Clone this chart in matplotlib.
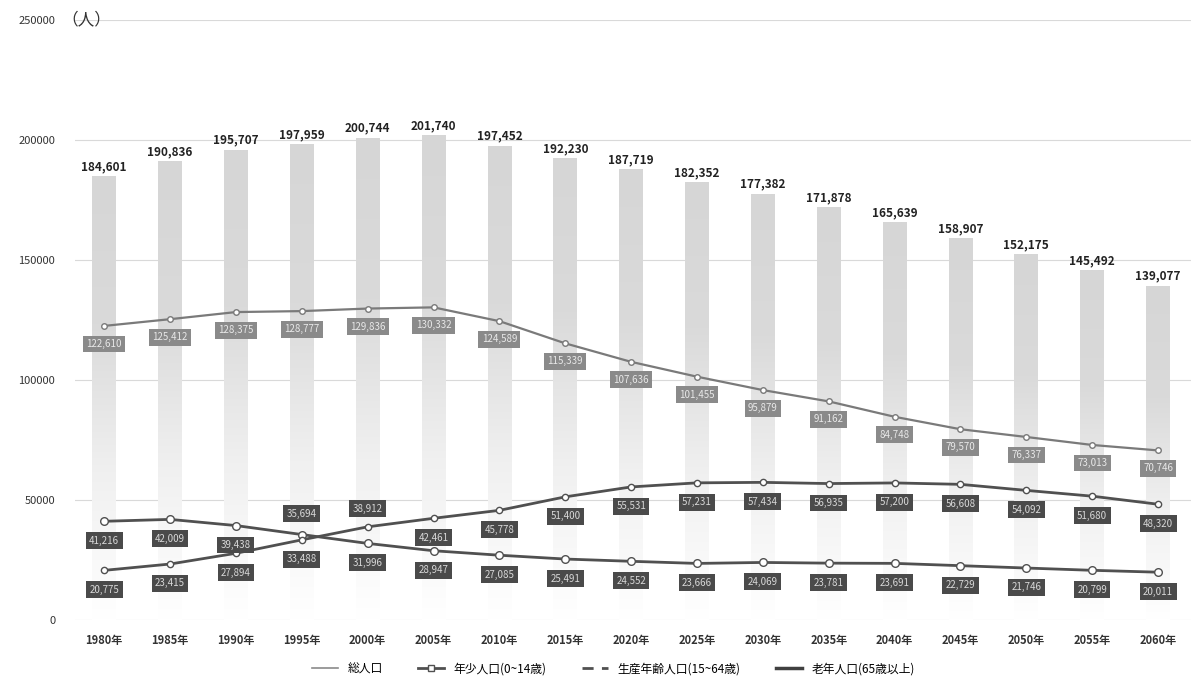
import numpy as np
import matplotlib
matplotlib.use("Agg")
import matplotlib.pyplot as plt
from matplotlib.lines import Line2D

plt.rcParams['font.family'] = ['Noto Sans CJK JP', 'DejaVu Sans']

years = ['1980年', '1985年', '1990年', '1995年', '2000年', '2005年', '2010年', '2015年',
         '2020年', '2025年', '2030年', '2035年', '2040年', '2045年', '2050年', '2055年', '2060年']
total = [184601, 190836, 195707, 197959, 200744, 201740, 197452, 192230, 187719,
         182352, 177382, 171878, 165639, 158907, 152175, 145492, 139077]
young = [41216, 42009, 39438, 35694, 31996, 28947, 27085, 25491, 24552,
         23666, 24069, 23781, 23691, 22729, 21746, 20799, 20011]
working = [122610, 125412, 128375, 128777, 129836, 130332, 124589, 115339, 107636,
           101455, 95879, 91162, 84748, 79570, 76337, 73013, 70746]
elderly = [20775, 23415, 27894, 33488, 38912, 42461, 45778, 51400, 55531,
           57231, 57434, 56935, 57200, 56608, 54092, 51680, 48320]
yticks = [0, 50000, 100000, 150000, 200000, 250000]
legend_labels = ['総人口', '年少人口(0~14歳)', '生産年齢人口(15~64歳)', '老年人口(65歳以上)']

fig = plt.figure(figsize=(12.03, 6.93), dpi=100)
ax = fig.add_axes([0.062, 0.105, 0.928, 0.866])
x = np.arange(len(years))

# gradient bars
bw = 0.36
grad = np.linspace(0, 1, 256).reshape(-1, 1)
cmap = matplotlib.colors.LinearSegmentedColormap.from_list('g', ['#ffffff', '#f0f0f0', '#dadada', '#d6d6d6'])
for xi, t in zip(x, total):
    ax.imshow(grad, extent=[xi - bw / 2, xi + bw / 2, 0, t], origin='lower', aspect='auto',
              cmap=cmap, zorder=1, interpolation='bilinear')
    ax.text(xi, t + 1500, f'{t:,}', ha='center', va='bottom', fontsize=8.5,
            fontweight='bold', color='#222222', zorder=6)

ax.plot(x, working, color='#7a7a7a', lw=1.6, marker='o', ms=4, mfc='white', mec='#7a7a7a', zorder=4)
ax.plot(x, young, color='#505050', lw=2.0, marker='o', ms=5.5, mfc='white', mec='#505050', zorder=4)
ax.plot(x, elderly, color='#505050', lw=2.0, marker='o', ms=4.5, mfc='white', mec='#505050', zorder=4)

def lab(xi, v, dy, fc, tc):
    ax.annotate(f'{v:,}', (xi, v), xytext=(0, dy), textcoords='offset points',
                ha='center', va='center', fontsize=7, color=tc, zorder=7,
                bbox=dict(boxstyle='square,pad=0.35', fc=fc, ec='none'))

for xi, v in zip(x, working):
    lab(xi, v, -13, '#8a8a8a', '#e8e8e8')
for i, v in enumerate(young):
    lab(x[i], v, 15 if i == 3 else -14, '#4a4a4a', '#d8d8d8')
for i, v in enumerate(elderly):
    lab(x[i], v, 13 if i == 4 else -14, '#4a4a4a', '#d8d8d8')

ax.set_xlim(-0.45, 16.5)
ax.set_ylim(0, 250000)
ax.set_yticks(yticks)
ax.set_yticklabels([str(v) for v in yticks], fontsize=8, color='#333333')
ax.set_xticks(x)
ax.set_xticklabels(years, fontsize=8, color='#333333', fontweight='bold')
ax.tick_params(length=0, pad=10)
ax.tick_params(axis='y', pad=14)
ax.grid(axis='y', color='#d9d9d9', lw=0.8, zorder=0)
ax.set_axisbelow(True)
for s in ax.spines.values():
    s.set_visible(False)

ax.text(-0.012, 1.0, '（人）', transform=ax.transAxes, fontsize=12, va='center', ha='left', color='#333333')

handles = [
    Line2D([], [], color='#8a8a8a', lw=1.2),
    Line2D([], [], color='#505050', lw=2, marker='s', ms=5, mfc='white', mec='#505050'),
    Line2D([], [], color='#505050', lw=2, ls=(0, (4, 3))),
    Line2D([], [], color='#404040', lw=2.5),
]
fig.legend(handles, legend_labels, loc='center', bbox_to_anchor=(0.51, 0.035), ncol=4,
           frameon=False, fontsize=8.5, handlelength=2.2, columnspacing=3)

fig.savefig('out.png', dpi=100, facecolor='white')
